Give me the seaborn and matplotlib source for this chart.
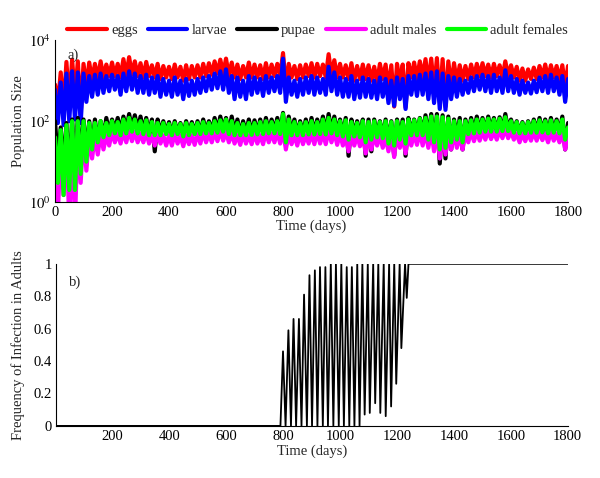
import numpy as np
import pandas as pd
import matplotlib
matplotlib.use('Agg')
import matplotlib.pyplot as plt
import seaborn as sns

sns.set_style('white')
plt.rcParams['font.family'] = ['Liberation Serif', 'DejaVu Serif']
plt.rcParams['mathtext.fontset'] = 'stix'

days = np.arange(0, 1801, 10)

eggs = [800, 250, 1600, 180, 2900, 250, 3300, 400, 3000, 150,
        2600, 700, 2800, 1000, 2600, 1100, 3000, 1200, 2500, 1300,
        2800, 1300, 2600, 1200, 3400, 1300, 3800, 1400, 3000, 1300,
        2700, 1200, 2900, 1300, 2400, 1200, 2600, 1100, 2300, 1200,
        2200, 1100, 2500, 1200, 2200, 1000, 2400, 1100, 2300, 1200,
        2400, 1200, 2600, 1300, 2700, 1400, 3000, 1500, 3300, 1500,
        3500, 1300, 2800, 1200, 2500, 1100, 2300, 1200, 2800, 1200,
        2500, 1200, 2400, 1100, 2700, 1200, 2500, 1300, 2600, 1300,
        4800, 700, 2600, 1200, 2300, 1100, 2400, 1200, 2500, 1300,
        2700, 1200, 2600, 1300, 2500, 1200, 4500, 1300, 3200, 1200,
        2600, 1200, 2400, 1100, 2700, 1000, 2300, 1100, 2500, 1100,
        2400, 1000, 2200, 900, 2600, 1100, 2500, 600, 2400, 230,
        2600, 900, 2500, 220, 2700, 1200, 2800, 1100, 3000, 1200,
        3400, 800, 3500, 600, 3600, 300, 3400, 230, 3000, 700,
        2700, 900, 2400, 1000, 2300, 1100, 2500, 1200, 2600, 1300,
        2700, 1300, 2500, 1200, 2600, 1300, 2400, 1200, 3000, 1300,
        2400, 1200, 2200, 1000, 2000, 1000, 1900, 1100, 2100, 1100,
        2300, 1200, 2500, 1100, 2400, 1200, 2300, 1000, 2400, 700,
        2300]

larvae = [600, 90, 900, 80, 1500, 100, 1700, 110, 1600, 90,
          1500, 300, 1300, 400, 1400, 450, 1500, 500, 1300, 550,
          1400, 600, 1300, 450, 1500, 550, 1700, 600, 1500, 500,
          1300, 500, 1400, 450, 1200, 500, 1300, 400, 1100, 450,
          1000, 400, 1200, 450, 1000, 350, 1100, 420, 1000, 450,
          1100, 500, 1200, 550, 1300, 600, 1500, 650, 1700, 600,
          1900, 500, 1300, 350, 1200, 400, 1000, 350, 1300, 450,
          1200, 500, 1100, 420, 1300, 500, 1200, 550, 1300, 500,
          3500, 300, 1200, 450, 1000, 400, 1100, 450, 1200, 500,
          1300, 450, 1200, 500, 1100, 450, 2200, 550, 1600, 450,
          1200, 400, 1100, 400, 1300, 350, 1000, 380, 1200, 400,
          1100, 380, 1000, 350, 1200, 400, 1100, 280, 1000, 240,
          1200, 350, 1100, 200, 1300, 450, 1300, 420, 1400, 450,
          1500, 350, 1600, 280, 1700, 200, 1500, 190, 1300, 350,
          1200, 400, 1100, 450, 1000, 500, 1200, 550, 1300, 600,
          1400, 550, 1300, 500, 1400, 550, 1200, 500, 1800, 550,
          1300, 500, 1100, 450, 1000, 500, 900, 480, 1000, 520,
          1200, 550, 1300, 500, 1400, 550, 1200, 450, 1300, 300,
          1100]

pupae = [100, 10, 70, 6, 90, 5, 110, 8, 120, 10,
         110, 15, 100, 20, 110, 30, 100, 40, 120, 50,
         110, 60, 120, 55, 130, 60, 150, 65, 140, 60,
         130, 55, 120, 50, 110, 18, 110, 50, 100, 50,
         95, 45, 100, 50, 90, 45, 100, 50, 95, 50,
         100, 50, 110, 55, 100, 55, 120, 55, 130, 60,
         120, 50, 130, 50, 110, 45, 100, 50, 110, 50,
         105, 50, 110, 50, 120, 55, 110, 55, 120, 50,
         160, 30, 130, 50, 110, 45, 100, 50, 110, 50,
         120, 50, 110, 55, 130, 50, 150, 55, 130, 50,
         110, 45, 120, 14, 110, 45, 100, 45, 110, 14,
         110, 18, 110, 45, 100, 40, 110, 30, 100, 14,
         110, 40, 110, 14, 120, 50, 110, 50, 120, 50,
         140, 40, 150, 30, 150, 9, 140, 12, 130, 20,
         110, 40, 120, 20, 110, 50, 120, 55, 130, 55,
         120, 55, 130, 60, 120, 55, 125, 60, 150, 60,
         110, 55, 100, 50, 95, 50, 100, 55, 110, 55,
         120, 55, 110, 50, 120, 55, 110, 50, 130, 20,
         90]

adult_males = [20, 0.5, 30, 1.5, 50, 0.3, 60, 0.3, 70, 3,
               60, 6, 50, 12, 45, 15, 50, 20, 45, 25,
               55, 30, 50, 28, 55, 30, 60, 32, 55, 30,
               50, 30, 55, 28, 45, 25, 50, 28, 45, 25,
               45, 25, 50, 28, 45, 24, 45, 27, 45, 26,
               50, 28, 55, 30, 50, 30, 55, 32, 60, 33,
               55, 30, 50, 28, 45, 26, 50, 28, 45, 27,
               50, 28, 45, 27, 55, 30, 50, 30, 55, 28,
               60, 20, 50, 27, 45, 25, 50, 27, 45, 28,
               50, 27, 55, 28, 50, 27, 60, 30, 55, 26,
               50, 25, 45, 18, 50, 25, 45, 24, 45, 16,
               40, 20, 45, 25, 45, 22, 40, 18, 45, 13,
               50, 22, 45, 16, 50, 25, 50, 26, 55, 25,
               55, 22, 60, 18, 60, 12, 55, 15, 50, 20,
               50, 22, 45, 20, 50, 30, 55, 32, 55, 33,
               55, 35, 60, 36, 55, 35, 60, 38, 65, 38,
               55, 35, 50, 30, 50, 32, 50, 33, 55, 33,
               55, 34, 50, 30, 55, 33, 50, 30, 55, 20,
               40]

adult_females = [40, 3, 60, 1.5, 80, 2, 100, 2, 100, 5,
                 100, 10, 90, 20, 90, 30, 100, 40, 90, 45,
                 100, 50, 95, 45, 110, 50, 120, 55, 110, 50,
                 100, 48, 105, 45, 95, 45, 90, 45, 90, 48,
                 85, 45, 90, 48, 85, 42, 90, 45, 85, 48,
                 90, 48, 95, 50, 90, 50, 100, 52, 105, 55,
                 110, 48, 100, 45, 90, 45, 85, 45, 90, 46,
                 90, 47, 95, 48, 100, 50, 95, 50, 100, 48,
                 150, 30, 110, 45, 95, 45, 90, 45, 95, 47,
                 100, 47, 95, 48, 110, 47, 120, 50, 110, 45,
                 100, 42, 105, 35, 95, 42, 90, 40, 100, 30,
                 95, 35, 100, 40, 95, 38, 100, 28, 95, 25,
                 100, 35, 95, 28, 110, 45, 105, 45, 115, 45,
                 120, 35, 130, 30, 130, 20, 125, 22, 115, 30,
                 100, 35, 100, 30, 100, 48, 105, 50, 110, 52,
                 110, 55, 115, 55, 110, 55, 115, 57, 125, 57,
                 100, 52, 95, 50, 90, 50, 95, 52, 100, 52,
                 105, 53, 100, 50, 105, 52, 100, 50, 110, 35,
                 70]

series_names = ['eggs', 'larvae', 'pupae', 'adult males', 'adult females']
series_colors = ['#ff0000', '#0000ff', '#000000', '#ff00ff', '#00ff00']

# infection frequency: peaks and troughs
freq_days = [0, 790, 799, 808, 818, 827, 836, 845, 855, 864, 873, 883, 892, 901,
             911, 920, 929, 939, 948, 957, 967, 976, 985, 995, 1004, 1013, 1023,
             1032, 1041, 1050, 1060, 1068, 1078, 1086, 1097, 1104, 1116, 1123,
             1134, 1141, 1153, 1160, 1172, 1179, 1190, 1197, 1209, 1215, 1228,
             1234, 1240, 1800]
freq_vals = [0, 0, 0.46, 0, 0.59, 0, 0.66, 0, 0.66, 0, 0.81, 0, 0.93, 0,
             0.96, 0, 0.98, 0, 0.98, 0, 1.0, 0, 1.0, 0, 1.0, 0, 0.98,
             0, 0.98, 0, 1.0, 0, 1.0, 0.07, 1.0, 0.08, 1.0, 0.14,
             1.0, 0.08, 1.0, 0.06, 1.0, 0.12, 1.0, 0.26, 1.0, 0.48, 1.0,
             0.79, 1.0, 1.0]

pop = pd.DataFrame({'day': days, 'eggs': eggs, 'larvae': larvae, 'pupae': pupae,
                    'adult males': adult_males, 'adult females': adult_females})
freq = pd.DataFrame({'day': freq_days, 'freq': freq_vals})

fig = plt.figure(figsize=(6, 4.78), dpi=100)
ax1 = fig.add_axes([0.0917, 0.577, 0.855, 0.339])
ax2 = fig.add_axes([0.0933, 0.109, 0.853, 0.339])

fs = 10.5
for name, col in zip(series_names, series_colors):
    sns.lineplot(data=pop, x='day', y=name, color=col, lw=3, ax=ax1,
                 label=name, estimator=None)
ax1.set_yscale('log')
ax1.set_ylim(1, 1e4)
ax1.set_xlim(0, 1800)
ax1.set_yticks([1, 100, 10000])
ax1.set_yticklabels(['$10^{0}$', '$10^{2}$', '$10^{4}$'])
ax1.minorticks_off()
ax1.set_xticks(range(0, 1801, 200))
ax1.set_xlabel('Time (days)', fontsize=fs, labelpad=0)
ax1.set_ylabel('Population Size', fontsize=fs)
ax1.yaxis.set_label_coords(-0.058, 0.5)
ax1.text(0.025, 0.95, 'a)', transform=ax1.transAxes, fontsize=fs, va='top')
leg = ax1.legend(loc='lower right', bbox_to_anchor=(1.0, 1.02), ncol=5,
                 frameon=False, fontsize=fs, handlelength=2.7, columnspacing=0.7,
                 handletextpad=0.3, borderaxespad=0, borderpad=0)
for h in leg.get_lines():
    h.set_linewidth(3)

sns.lineplot(data=freq, x='day', y='freq', color='black', lw=1.3, ax=ax2,
             estimator=None)
ax2.set_xlim(1, 1800)
ax2.set_ylim(0, 1)
ax2.set_xticks(range(200, 1801, 200))
ax2.set_yticks([0, 0.2, 0.4, 0.6, 0.8, 1])
ax2.set_yticklabels(['0', '0.2', '0.4', '0.6', '0.8', '1'])
ax2.set_xlabel('Time (days)', fontsize=fs, labelpad=1)
ax2.set_ylabel('Frequency of Infection in Adults', fontsize=fs)
ax2.yaxis.set_label_coords(-0.06, 0.5)
ax2.text(0.025, 0.93, 'b)', transform=ax2.transAxes, fontsize=fs, va='top')

for ax in (ax1, ax2):
    sns.despine(ax=ax)
    ax.tick_params(direction='in', length=5, width=0.8, labelsize=fs, pad=3,
                   colors='black')
    for s in ('left', 'bottom'):
        ax.spines[s].set_linewidth(0.8)
        ax.spines[s].set_color('black')

fig.savefig('out.png', dpi=100)
